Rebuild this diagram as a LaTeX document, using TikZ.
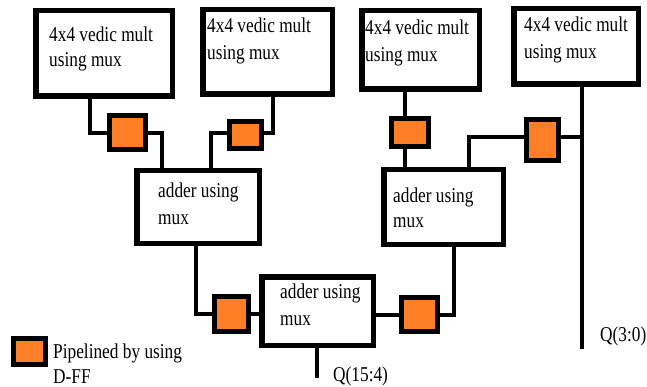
\documentclass[tikz,border=0pt]{standalone}
\usepackage{fontspec}
\usepackage{graphicx}
\setmainfont{Liberation Serif}
\newcommand{\tallt}[1]{\scalebox{1}[1.22]{#1}}
\begin{document}
\begin{tikzpicture}[x=1pt,y=-1pt,
  blk/.style={draw=black, line width=5.5pt, fill=white, inner sep=0pt, line join=miter},
  dff/.style={draw=black, line width=5pt, fill=dffor, inner sep=0pt},
  wire/.style={line width=4pt, line join=miter},
  lbl/.style={inner sep=0pt, anchor=base west, font=\fontsize{17.3}{20}\selectfont}]
\definecolor{dffor}{HTML}{FF7F27}
\fill[white] (0,0) rectangle (647,387);
\useasboundingbox (0,0) rectangle (647,387);
% blocks
\node[blk, minimum width=136.5pt, minimum height=85.5pt] (m1) at (104,53.5) {};
\node[blk, minimum width=129.5pt, minimum height=84.5pt] (m2) at (267.5,52) {};
\node[blk, minimum width=117.5pt, minimum height=78.5pt] (m3) at (420.5,50) {};
\node[blk, minimum width=124.5pt, minimum height=75.5pt] (m4) at (576,46.5) {};
\node[blk, minimum width=122.5pt, minimum height=72.5pt] (a1) at (198,207) {};
\node[blk, minimum width=119.5pt, minimum height=74.5pt] (a2) at (443.5,207) {};
\node[blk, minimum width=111.5pt, minimum height=68.5pt] (a3) at (317.5,311) {};
% flip-flops
\node[dff, minimum width=36pt, minimum height=34pt] (ff1) at (127.5,132.5) {};
\node[dff, minimum width=32pt, minimum height=27pt] (ff2) at (245.5,135) {};
\node[dff, minimum width=37pt, minimum height=28pt] (ff3) at (410,132.5) {};
\node[dff, minimum width=32pt, minimum height=41pt] (ff4) at (542.5,140) {};
\node[dff, minimum width=34pt, minimum height=35pt] (ff5) at (231.5,314) {};
\node[dff, minimum width=36pt, minimum height=34pt] (ff6) at (419.5,314.5) {};
\node[dff, minimum width=32pt, minimum height=26pt] (leg) at (29.5,351.5) {};
% helper coordinates
\coordinate (x90) at (90,133);
\coordinate (x162) at (162,133);
\coordinate (x273) at (273,133);
\coordinate (x211) at (211,133);
\coordinate (x405) at (405,0);
\coordinate (x582) at (582,137);
\coordinate (x469) at (469,0);
\coordinate (x196) at (196,0);
\coordinate (x454) at (454,0);
\coordinate (qend) at (582,349);
\coordinate (oend) at (317,378);
% wires
\draw[wire] (m1.south -| x90) -- (x90) -- (x90 -| ff1.west);
\draw[wire] (x162 -| ff1.east) -- (x162) -- (a1.north -| x162);
\draw[wire] (m2.south -| x273) -- (x273) -- (x273 -| ff2.east);
\draw[wire] (x211 -| ff2.west) -- (x211) -- (a1.north -| x211);
\draw[wire] (m3.south -| x405) -- (ff3.north -| x405);
\draw[wire] (ff3.south -| x405) -- (a2.north -| x405);
\draw[wire] (m4.south -| x582) -- (qend);
\draw[wire] (x582) -- (x582 -| ff4.east);
\draw[wire] (ff4.west |- x582) -| (a2.north -| x469);
\draw[wire] (a1.south -| x196) |- (ff5.west);
\draw[wire] (ff5.east) -- (a3.west |- ff5.east);
\draw[wire] (a3.east |- ff6.west) -- (ff6.west);
\draw[wire] (ff6.east) -| (a2.south -| x454);
\draw[wire] (a3.south -| oend) -- (oend);
% labels
\node[lbl] (m1a) at (49,42) {\tallt{4x4 vedic mult}};
\node[lbl] (m1b) at (49,67) {\tallt{using mux}};
\node[lbl] (m2a) at (207,33) {\tallt{4x4 vedic mult}};
\node[lbl] (m2b) at (207,60) {\tallt{using mux}};
\node[lbl] (m3a) at (365,35) {\tallt{4x4 vedic mult}};
\node[lbl] (m3b) at (365,62) {\tallt{using mux}};
\node[lbl] (m4a) at (524,32) {\tallt{4x4 vedic mult}};
\node[lbl] (m4b) at (524,59) {\tallt{using mux}};
\node[lbl] (a1a) at (158,198) {\tallt{adder using}};
\node[lbl] (a1b) at (158,225) {\tallt{mux}};
\node[lbl] (a2a) at (393,203) {\tallt{adder using}};
\node[lbl] (a2b) at (393,228) {\tallt{mux}};
\node[lbl] (a3a) at (280,298) {\tallt{adder using}};
\node[lbl] (a3b) at (280,325) {\tallt{mux}};
\node[lbl] (lega) at (53,358) {\tallt{Pipelined by using}};
\node[lbl] (legb) at (53,383) {\tallt{D-FF}};
\node[lbl] (q154) at (333,381) {\tallt{Q(15:4)}};
\node[lbl] (q30) at (600,341) {\tallt{Q(3:0)}};
\end{tikzpicture}
\end{document}
